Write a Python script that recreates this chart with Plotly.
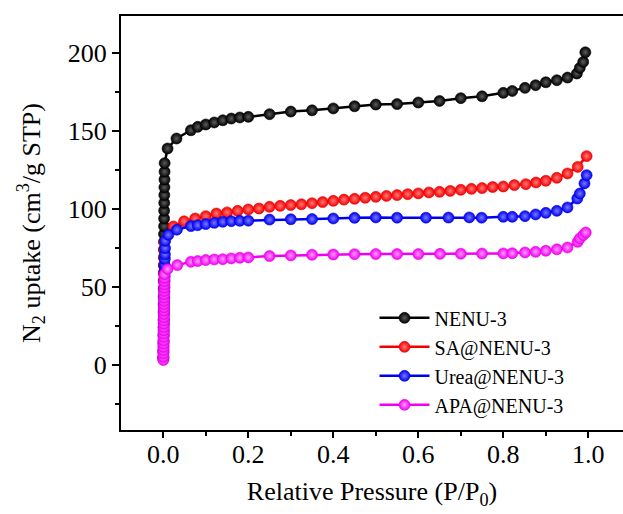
import plotly.graph_objects as go

# N2 adsorption isotherms at 77 K (relative pressure vs uptake, cm3/g STP)

nenu3_p = [0.0001, 0.0002, 0.0003, 0.0004, 0.0005, 0.0006, 0.0007, 0.0008, 0.0009, 0.0010,
           0.0011, 0.0012, 0.0013, 0.0014, 0.0015, 0.0016, 0.0017, 0.0018, 0.0019, 0.0020,
           0.0022, 0.0024, 0.0026, 0.0028, 0.0030, 0.0032,
           0.010, 0.031, 0.065, 0.081, 0.100, 0.120, 0.140, 0.160, 0.180, 0.200,
           0.250, 0.300, 0.350, 0.400, 0.450, 0.500, 0.550, 0.600, 0.650, 0.700,
           0.750, 0.800, 0.821, 0.851, 0.876, 0.900, 0.926, 0.951, 0.973, 0.980,
           0.988, 0.993]
nenu3_v = [4, 9, 14, 19, 24, 29, 34, 39, 44, 49,
           54, 59, 64, 69, 74, 79, 84, 89, 94, 99,
           104, 109, 114, 119, 124, 129.5,
           138.9, 145.3, 150.6, 152.8, 154.3, 155.6, 157.0, 158.1, 158.8, 159.2,
           160.9, 162.6, 163.4, 164.6, 166.0, 167.1, 167.4, 168.4, 169.4, 171.2,
           172.4, 174.6, 175.8, 177.8, 179.5, 181.4, 182.7, 184.4, 187.0, 190.6,
           194.4, 200.6]

sa_p = [0.0001, 0.0003, 0.0005, 0.0007, 0.0009, 0.0011, 0.0013, 0.0015, 0.0017, 0.0019,
        0.0021, 0.0023, 0.0025, 0.0027, 0.0029,
        0.024, 0.049, 0.075, 0.100, 0.125, 0.150, 0.175, 0.200, 0.225, 0.250,
        0.275, 0.300, 0.325, 0.350, 0.375, 0.400, 0.425, 0.450, 0.475, 0.500,
        0.525, 0.550, 0.575, 0.600, 0.625, 0.650, 0.675, 0.700, 0.725, 0.750,
        0.775, 0.800, 0.826, 0.853, 0.877, 0.900, 0.926, 0.951, 0.975, 0.996]
sa_v = [5, 10, 16, 21, 27, 32, 38, 43, 48, 54,
        59, 64, 69, 74, 79,
        88.9, 92.2, 94.0, 95.5, 97.2, 97.9, 98.9, 99.8, 100.4, 101.5,
        102.1, 102.6, 103.1, 103.8, 104.5, 105.3, 106.1, 106.6, 107.3, 107.9,
        108.5, 109.0, 109.6, 110.1, 110.7, 111.1, 111.7, 112.4, 113.0, 113.5,
        114.2, 114.5, 115.4, 116.0, 117.1, 118.2, 120.1, 122.9, 127.1, 134.0]

urea_p = [0.0001, 0.0003, 0.0005, 0.0007, 0.0009, 0.0011, 0.0013, 0.0015, 0.0017, 0.0019,
          0.0021, 0.0023, 0.0025, 0.0027, 0.0029, 0.0031, 0.0033, 0.0035, 0.0037, 0.0039,
          0.0041, 0.0043,
          0.012, 0.032, 0.065, 0.081, 0.100, 0.120, 0.140, 0.160, 0.180, 0.200,
          0.250, 0.300, 0.350, 0.400, 0.450, 0.500, 0.550, 0.618, 0.671, 0.720,
          0.749, 0.800, 0.821, 0.851, 0.876, 0.900, 0.926, 0.951, 0.974, 0.980,
          0.991, 0.996]
urea_v = [5, 8, 12, 15, 19, 22, 26, 29, 33, 36,
          40, 43, 47, 50, 54, 57, 61, 64, 68, 71,
          75, 79.7,
          83.5, 86.8, 89.1, 89.7, 90.4, 91.2, 91.9, 92.3, 92.5, 92.6,
          93.3, 93.5, 93.6, 94.0, 94.4, 94.7, 94.5, 94.5, 94.6, 94.7,
          94.5, 95.1, 95.1, 95.5, 96.6, 97.6, 98.9, 101.1, 106.8, 110.0,
          116.5, 121.8]

apa_p = [0.0001, 0.0002, 0.0003, 0.0004, 0.0005, 0.0006, 0.0007, 0.0008, 0.0009, 0.0010,
         0.0011, 0.0012, 0.0013, 0.0014, 0.0015, 0.0016, 0.0017, 0.0018, 0.0019, 0.0020,
         0.0021, 0.0022, 0.0023, 0.0024, 0.0025, 0.0026, 0.0027,
         0.010, 0.033, 0.065, 0.081, 0.100, 0.120, 0.140, 0.160, 0.180, 0.200,
         0.250, 0.300, 0.350, 0.400, 0.450, 0.500, 0.550, 0.600, 0.651, 0.700,
         0.750, 0.800, 0.821, 0.851, 0.876, 0.900, 0.926, 0.951, 0.975, 0.980,
         0.988, 0.994]
apa_v = [3.2, 5.3, 7.4, 9.5, 11.6, 13.7, 15.8, 18.0, 20.1, 22.2,
         24.3, 26.4, 28.5, 30.6, 32.7, 34.8, 36.9, 39.0, 41.1, 43.2,
         45.3, 47.4, 49.5, 51.6, 53.7, 55.8, 58.2,
         61.5, 64.1, 66.2, 66.7, 67.3, 67.7, 67.9, 68.4, 68.8, 69.0,
         69.9, 70.3, 70.7, 70.9, 71.1, 71.2, 71.2, 71.2, 71.3, 71.4,
         71.5, 71.6, 71.7, 72.2, 72.6, 73.3, 74.2, 75.4, 79.0, 81.2,
         83.3, 85.0]

x_ticks = [0, 0.2, 0.4, 0.6, 0.8, 1.0]
x_ticktext = ["0.0", "0.2", "0.4", "0.6", "0.8", "1.0"]
y_ticks = [0, 50, 100, 150, 200]
x_range = [-0.0995, 1.0816]
y_range = [-41.7, 223.9]

series = [
    ("NENU-3", nenu3_p, nenu3_v, "#000000", "#5c5c5c"),
    ("SA@NENU-3", sa_p, sa_v, "#f20000", "#ff7a7a"),
    ("Urea@NENU-3", urea_p, urea_v, "#0000f0", "#7a7aff"),
    ("APA@NENU-3", apa_p, apa_v, "#f000f0", "#ff9cff"),
]

FONT = "Liberation Serif"

fig = go.Figure()
for name, p, v, col, hi in series:
    fig.add_trace(go.Scatter(
        x=p, y=v, name=name, mode="lines+markers",
        line=dict(color=col, width=2.5),
        marker=dict(size=11, color=col, symbol="circle",
                    gradient=dict(type="radial", color=hi),
                    line=dict(width=0.6, color=col)),
    ))

# bottom axis: labels + minor ticks; major tick marks come from the overlay axis
fig.update_xaxes(
    range=x_range, tickvals=x_ticks, ticktext=x_ticktext,
    showline=True, linecolor="black", linewidth=2, mirror=True,
    ticks="", showgrid=False, zeroline=False,
    tickfont=dict(family=FONT, size=26, color="black"),
    minor=dict(dtick=0.1, ticks="outside", ticklen=4, tickwidth=2, tickcolor="black"),
    title=dict(text="Relative Pressure (P/P<sub>0</sub>)",
               font=dict(family=FONT, size=26, color="black"), standoff=14),
)
fig.update_layout(xaxis2=dict(
    overlaying="x", anchor="y", side="bottom", range=x_range,
    tickvals=x_ticks, showticklabels=False, showline=False,
    ticks="outside", ticklen=7, tickwidth=2, tickcolor="black",
    showgrid=False, zeroline=False,
))
fig.add_trace(go.Scatter(x=[], y=[], xaxis="x2", showlegend=False, hoverinfo="skip"))

fig.update_yaxes(
    range=y_range, tickvals=y_ticks,
    showline=True, linecolor="black", linewidth=2,
    ticks="outside", ticklen=7, tickwidth=2, tickcolor="black",
    showgrid=False, zeroline=False,
    tickfont=dict(family=FONT, size=26, color="black"),
    minor=dict(dtick=25, ticks="outside", ticklen=4, tickwidth=2, tickcolor="black"),
    title=dict(text="N<sub>2</sub> uptake (cm<sup>3</sup>/g STP)",
               font=dict(family=FONT, size=26, color="black"), standoff=20),
)

fig.update_layout(
    width=623, height=514,
    margin=dict(l=121, r=0, t=16, b=84),
    plot_bgcolor="white", paper_bgcolor="white",
    showlegend=True,
    legend=dict(x=0.505, y=0.318, xanchor="left", yanchor="top",
                bgcolor="rgba(0,0,0,0)", borderwidth=0,
                font=dict(family=FONT, size=20, color="black"),
                itemwidth=50, tracegroupgap=0),
)

fig.write_html("out.html")
